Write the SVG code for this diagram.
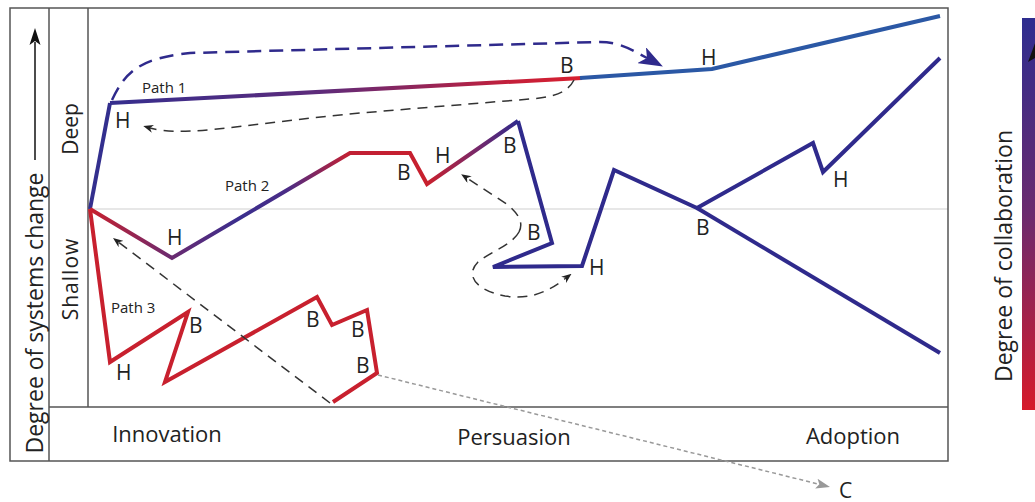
<svg xmlns="http://www.w3.org/2000/svg" width="1035" height="502" viewBox="0 0 1035 502">
  <defs>
    <style>
      .frame { fill: none; stroke: #555; stroke-width: 1.5; }
      .mid { stroke: #d0d0d0; stroke-width: 1.2; }
      .route { fill: none; stroke-width: 4; stroke-linejoin: miter; stroke-linecap: butt; }
      .navy { stroke: #2f2a8c; }
      .red { stroke: #c8202e; }
      .lbl { font-family: "Open Sans", "Liberation Sans", sans-serif; fill: #222; }
      .hb { font-size: 21px; }
      .pname { font-size: 15px; }
      .phase { font-size: 22px; text-anchor: middle; }
      .axis { font-size: 23px; text-anchor: middle; }
      .band { font-size: 21px; text-anchor: middle; }
      .dash { fill: none; stroke: #333; stroke-width: 1.5; stroke-dasharray: 10 7; }
    </style>
    <linearGradient id="g1" gradientUnits="userSpaceOnUse" x1="110" y1="0" x2="582" y2="0">
      <stop offset="0" stop-color="#352e8e"/>
      <stop offset="0.45" stop-color="#5e2b7a"/>
      <stop offset="0.85" stop-color="#c41f3a"/>
      <stop offset="1" stop-color="#d8202f"/>
    </linearGradient>
    <linearGradient id="g2" gradientUnits="userSpaceOnUse" x1="90" y1="0" x2="518" y2="0">
      <stop offset="0" stop-color="#c8202e"/>
      <stop offset="0.19" stop-color="#6a2a70"/>
      <stop offset="0.35" stop-color="#3a2e8e"/>
      <stop offset="0.46" stop-color="#4a2c86"/>
      <stop offset="0.6" stop-color="#c02035"/>
      <stop offset="0.79" stop-color="#c8202e"/>
      <stop offset="0.9" stop-color="#7a2868"/>
      <stop offset="1" stop-color="#2f2a8c"/>
    </linearGradient>
    <linearGradient id="gBar" x1="0" y1="0" x2="0" y2="1">
      <stop offset="0" stop-color="#2e2d8f"/>
      <stop offset="0.5" stop-color="#6b2a6e"/>
      <stop offset="1" stop-color="#d61a2a"/>
    </linearGradient>
    <marker id="arrBig" viewBox="0 0 24 18" refX="6" refY="9" markerWidth="24" markerHeight="18" markerUnits="userSpaceOnUse" orient="auto">
      <path d="M0,0 L24,9 L0,18 L6,9 Z" fill="#2f2a8c"/>
    </marker>
    <marker id="arrSm" viewBox="0 0 10 8" refX="3" refY="4" markerWidth="10" markerHeight="8" markerUnits="userSpaceOnUse" orient="auto">
      <path d="M0,0 L10,4 L0,8 L3,4 Z" fill="#222"/>
    </marker>
    <marker id="arrGrey" viewBox="0 0 14 10" refX="3" refY="5" markerWidth="14" markerHeight="10" markerUnits="userSpaceOnUse" orient="auto">
      <path d="M0,0 L14,5 L0,10 L3,5 Z" fill="#999"/>
    </marker>
  </defs>

  <rect width="1035" height="502" fill="#fff"/>

  <!-- chart frame -->
  <g id="frame">
    <line class="mid" x1="88" y1="209" x2="948" y2="209"/>
    <rect class="frame" x="10" y="8" width="938" height="453"/>
    <line class="frame" x1="49" y1="8" x2="49" y2="461"/>
    <line class="frame" x1="88" y1="8" x2="88" y2="407"/>
    <line class="frame" x1="49" y1="407" x2="948" y2="407"/>
  </g>

  <!-- axis titles and bands -->
  <g id="axis-y">
    <text class="lbl axis" transform="translate(43,313) rotate(-90)">Degree of systems change</text>
    <line x1="35" y1="160" x2="35" y2="42" stroke="#111" stroke-width="1.5"/>
    <path d="M35,28 L40.5,45 L35,41 L29.5,45 Z" fill="#111"/>
    <text class="lbl band" transform="translate(78,129) rotate(-90)">Deep</text>
    <text class="lbl band" transform="translate(78,279) rotate(-90)" letter-spacing="1">Shallow</text>
  </g>
  <g id="axis-x">
    <text class="lbl phase" x="167" y="442">Innovation</text>
    <text class="lbl phase" x="514" y="445">Persuasion</text>
    <text class="lbl phase" x="853" y="444">Adoption</text>
  </g>

  <!-- collaboration scale -->
  <g id="scale">
    <rect x="1022" y="18" width="20" height="392" fill="url(#gBar)"/>
    <path d="M1037,38 L1046,62 L1037,57 L1028,62 Z" fill="#111"/>
    <text class="lbl axis" transform="translate(1012,256) rotate(-90)">Degree of collaboration</text>
  </g>

  <!-- path 1 -->
  <g id="path1">
    <polyline class="route" stroke="#332f8e" points="90,209 110,103"/>
    <polyline class="route" stroke="url(#g1)" points="110,103 582,78"/>
    <polyline class="route" stroke="#2b58a5" points="580,78 712,69 940,16"/>
    <text class="lbl pname" x="142" y="93">Path 1</text>
    <text class="lbl hb" x="115" y="128">H</text>
    <text class="lbl hb" x="560" y="73">B</text>
    <text class="lbl hb" x="701" y="65">H</text>
  </g>

  <!-- path 2 -->
  <g id="path2">
    <polyline class="route" stroke="url(#g2)" points="90,209 172,258 350,153 410,153 427,184 518,121"/>
    <polyline class="route navy" points="518,121 552,243 493,267 582,266 614,170 697,208 813,143 823,172 940,58"/>
    <polyline class="route navy" points="697,208 940,353"/>
    <text class="lbl pname" x="225" y="191">Path 2</text>
    <text class="lbl hb" x="167" y="245">H</text>
    <text class="lbl hb" x="397" y="180">B</text>
    <text class="lbl hb" x="435" y="163">H</text>
    <text class="lbl hb" x="503" y="153">B</text>
    <text class="lbl hb" x="527" y="240">B</text>
    <text class="lbl hb" x="589" y="275">H</text>
    <text class="lbl hb" x="696" y="235">B</text>
    <text class="lbl hb" x="833" y="187">H</text>
  </g>

  <!-- path 3 -->
  <g id="path3">
    <polyline class="route red" points="90,209 110,362 188,312 165,382 317,297 332,325 367,310 377,373 333,402"/>
    <text class="lbl pname" x="111" y="313">Path 3</text>
    <text class="lbl hb" x="116" y="380">H</text>
    <text class="lbl hb" x="189" y="333">B</text>
    <text class="lbl hb" x="306" y="327">B</text>
    <text class="lbl hb" x="351" y="337">B</text>
    <text class="lbl hb" x="356" y="373">B</text>
    <text class="lbl hb" x="839" y="498">C</text>
  </g>

  <!-- connectors -->
  <g id="connectors">
    <path d="M112,100 C125,72 140,58 190,53 L600,42 C620,42 632,50 647,58" fill="none" stroke="#2f2a8c" stroke-width="2.5" stroke-dasharray="14 8" marker-end="url(#arrBig)"/>
    <path class="dash" d="M574,80 C568,92 555,97 530,99 L360,113 C250,123 185,138 150,128" marker-end="url(#arrSm)"/>
    <path class="dash" d="M519,232 C524,222 518,214 508,205 L467,178" marker-end="url(#arrSm)"/>
    <path class="dash" d="M519,232 C512,245 490,252 478,262 C465,275 475,290 505,296 C530,300 548,292 566,278" marker-end="url(#arrSm)"/>
    <path class="dash" d="M330,403 L118.6,242.2" marker-end="url(#arrSm)"/>
    <path d="M378,375 L819.3,484.3" fill="none" stroke="#999" stroke-width="1.5" stroke-dasharray="4 3" marker-end="url(#arrGrey)"/>
  </g>
</svg>
